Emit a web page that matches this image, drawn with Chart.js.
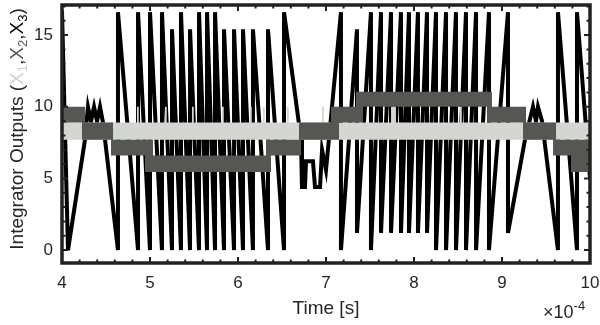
<!DOCTYPE html>
<html lang="en">
<head>
<meta charset="UTF-8">
<title>Integrator Outputs</title>
<script src="https://cdn.jsdelivr.net/npm/chart.js"></script>
<style>
    body { margin: 0; background: #fff; }
    .wrap { position: relative; width: 600px; height: 325px; font-family: 'Liberation Sans', Arial, sans-serif; }
    #chart { display: block; }
    .ylabel {
        position: absolute; width: 300px; height: 24px; left: -133px; top: 117px;
        line-height: 24px; text-align: center; font-size: 19px; color: #262626;
        transform: rotate(-90deg); white-space: nowrap;
    }
    .ylabel sub { font-size: 13px; line-height: 0; vertical-align: -4px; }
    .c1 { color: #cfd1cc; }
    .c2 { color: #555752; }
    .c3 { color: #000; }
    .expo { position: absolute; left: 543px; top: 303px; font-size: 18px; line-height: 18px; color: #262626; white-space: nowrap; }
    .expo sup { font-size: 13px; line-height: 0; vertical-align: 8px; }
</style>
</head>
<body>
<div class="wrap">
    <canvas id="chart" width="600" height="325"></canvas>
    <div class="ylabel">Integrator Outputs (<span class="c1">X<sub>1</sub></span>,<span class="c2">X<sub>2</sub></span>,<span class="c3">X<sub>3</sub></span>)</div>
    <div class="expo">&times;10<sup>-4</sup></div>
</div>
<script>
    // time axis in units of 1e-4 s
    const xTicks = [4, 5, 6, 7, 8, 9, 10];
    const yTicks = [0, 5, 10, 15];

    // X3 (black sawtooth)
    const x3Time = [4.000, 4.068, 4.261, 4.295, 4.330, 4.364, 4.398, 4.432, 4.466, 4.636,
        4.636, 4.864, 4.864, 5.000, 5.000, 5.136, 5.136, 5.250, 5.250, 5.352,
        5.352, 5.455, 5.455, 5.557, 5.557, 5.648, 5.648, 5.739, 5.739, 5.841,
        5.841, 5.955, 5.955, 6.057, 6.057, 6.170, 6.170, 6.341, 6.341, 6.523,
        6.523, 6.682, 6.716, 6.727, 6.761, 6.773, 6.852, 6.875, 6.932, 6.955,
        7.000, 7.170, 7.170, 7.352, 7.352, 7.511, 7.511, 7.625, 7.625, 7.739,
        7.739, 7.852, 7.852, 7.943, 7.943, 8.045, 8.045, 8.148, 8.148, 8.250,
        8.250, 8.364, 8.364, 8.477, 8.477, 8.591, 8.591, 8.705, 8.705, 8.852,
        8.852, 9.068, 9.068, 9.261, 9.352, 9.386, 9.409, 9.455, 9.636, 9.636,
        9.852, 9.852, 10.000];
    const x3Value = [16.7, 0, 7.7, 10.0, 9.0, 10.0, 9.0, 10.0, 8.9, 0,
        16.6, 0, 16.6, 0, 16.6, 0, 16.6, 0, 15.4, 0,
        16.6, 0, 15.4, 0, 16.6, 0, 16.6, 0, 16.6, 0,
        15.4, 0, 15.4, 0, 15.4, 0, 15.4, 0, 15.4, 0,
        16.6, 9.3, 7.7, 4.4, 4.4, 6.2, 6.2, 4.4, 4.4, 7.0,
        5.6, 16.6, 0, 15.4, 1.2, 16.6, 0, 16.6, 1.2, 16.6,
        1.2, 16.6, 1.2, 16.6, 1.2, 16.6, 1.2, 16.6, 1.2, 16.6,
        0, 16.6, 0, 16.6, 0, 16.6, 0, 16.6, 0, 16.6,
        0, 16.6, 1.2, 7.7, 10.0, 9.0, 10.0, 9.0, 0, 16.6,
        0, 16.6, 5.0];

    // X1 (light grey band): step start times, lower and upper edge
    const x1Start = [4.000, 4.852, 4.872, 5.170, 5.190, 5.477, 5.497, 5.818, 5.838, 6.136, 6.156,
        6.284, 6.304, 6.557, 6.577, 6.955, 6.975, 7.739, 7.795, 8.523, 8.543];
    const x1Lo = [7.7, 7.7, 7.7, 7.7, 7.7, 7.7, 7.7, 7.7, 7.7, 7.7, 7.7,
        7.7, 7.7, 7.7, 7.7, 7.7, 7.7, 7.7, 7.7, 7.7, 7.7];
    const x1Hi = [8.9, 10, 8.9, 10, 8.9, 10, 8.9, 10, 8.9, 10, 8.9,
        10, 8.9, 10, 8.9, 10, 8.9, 10, 8.9, 10, 8.9];

    // X2 (dark grey band)
    const x2Start = [4.000, 4.227, 4.261, 4.557, 4.580, 4.943, 5.034, 6.318, 6.375, 6.693, 6.716,
        7.057, 7.148, 7.341, 7.420, 8.830, 8.886, 9.239, 9.273, 9.580, 9.614, 9.784];
    const x2Lo = [8.9, 7.7, 7.7, 6.6, 6.6, 5.45, 5.45, 5.45, 6.6, 6.6, 7.7,
        7.7, 8.9, 8.9, 10.0, 8.9, 8.9, 7.7, 7.7, 6.6, 6.6, 5.45];
    const x2Hi = [10.0, 10.0, 8.9, 8.9, 7.7, 7.7, 6.6, 7.7, 7.7, 8.9, 8.9,
        10.0, 10.0, 11.05, 11.05, 11.05, 10.0, 10.0, 8.9, 8.9, 7.7, 7.7];

    const tEnd = 10;

    function stepEdge(starts, vals) {
        const pts = [];
        starts.forEach((s, i) => {
            const e = i + 1 < starts.length ? starts[i + 1] : tEnd;
            pts.push({ x: s, y: vals[i] }, { x: e, y: vals[i] });
        });
        return pts;
    }

    const light = '#d4d6d1';
    const dark = '#555752';
    const none = 'rgba(0,0,0,0)';

    const bandEdge = (data, order, fill, color) => ({
        data: data, order: order, fill: fill, backgroundColor: color,
        borderColor: none, borderWidth: 1, pointRadius: 0, clip: 0
    });

    // inward tick marks and heavy box, drawn from the scales
    const framePlugin = {
        id: 'frame',
        afterDatasetsDraw(chart) {
            const { ctx, chartArea: a, scales: { x, y } } = chart;
            ctx.save();
            ctx.strokeStyle = '#222';
            ctx.lineWidth = 2;
            ctx.beginPath();
            for (let i = 0; i <= 30; i++) {
                const px = x.getPixelForValue(4 + i * 0.2);
                const len = i % 5 === 0 ? 6 : 3.5;
                ctx.moveTo(px, a.bottom); ctx.lineTo(px, a.bottom - len);
                ctx.moveTo(px, a.top); ctx.lineTo(px, a.top + len);
            }
            for (let v = 0; v <= 17; v++) {
                const py = y.getPixelForValue(v);
                const len = v % 5 === 0 ? 6 : 3.5;
                ctx.moveTo(a.left, py); ctx.lineTo(a.left + len, py);
                ctx.moveTo(a.right, py); ctx.lineTo(a.right - len, py);
            }
            ctx.stroke();
            ctx.lineWidth = 3.5;
            ctx.strokeRect(a.left, a.top, a.right - a.left, a.bottom - a.top);
            ctx.restore();
        }
    };

    Chart.defaults.font.family = "'Liberation Sans', Arial, sans-serif";
    Chart.defaults.color = '#262626';

    new Chart(document.getElementById('chart'), {
        type: 'line',
        data: {
            datasets: [
                bandEdge(stepEdge(x2Start, x2Lo), 1, false, dark),
                bandEdge(stepEdge(x2Start, x2Hi), 1, '-1', dark),
                bandEdge(stepEdge(x1Start, x1Lo), 2, false, light),
                bandEdge(stepEdge(x1Start, x1Hi), 2, '-1', light),
                {
                    label: 'X3',
                    data: x3Time.map((t, i) => ({ x: t, y: x3Value[i] })),
                    order: 3,
                    borderColor: '#000',
                    borderWidth: 4,
                    pointRadius: 0,
                    fill: false,
                    clip: 0
                }
            ]
        },
        options: {
            responsive: false,
            animation: false,
            events: [],
            layout: { padding: { left: 0, right: 10, top: 5, bottom: 0 } },
            plugins: { legend: { display: false }, tooltip: { enabled: false } },
            scales: {
                x: {
                    type: 'linear', min: 4, max: 10,
                    afterBuildTicks: s => { s.ticks = xTicks.map(v => ({ value: v })); },
                    afterFit: s => { s.height = 62; s.paddingLeft = 0; s.paddingRight = 0; },
                    grid: { display: false, drawTicks: false },
                    border: { display: false },
                    ticks: { autoSkip: false, maxRotation: 0, padding: 10, font: { size: 17 } },
                    title: { display: true, text: 'Time [s]', font: { size: 19 }, padding: { top: 0, bottom: 5 } }
                },
                y: {
                    type: 'linear', min: -0.9, max: 17.1,
                    afterBuildTicks: s => { s.ticks = yTicks.map(v => ({ value: v })); },
                    afterFit: s => { s.width = 62; s.paddingTop = 0; s.paddingBottom = 0; },
                    grid: { display: false, drawTicks: false },
                    border: { display: false },
                    ticks: { padding: 9, font: { size: 17 } }
                }
            }
        },
        plugins: [framePlugin]
    });
</script>
</body>
</html>
